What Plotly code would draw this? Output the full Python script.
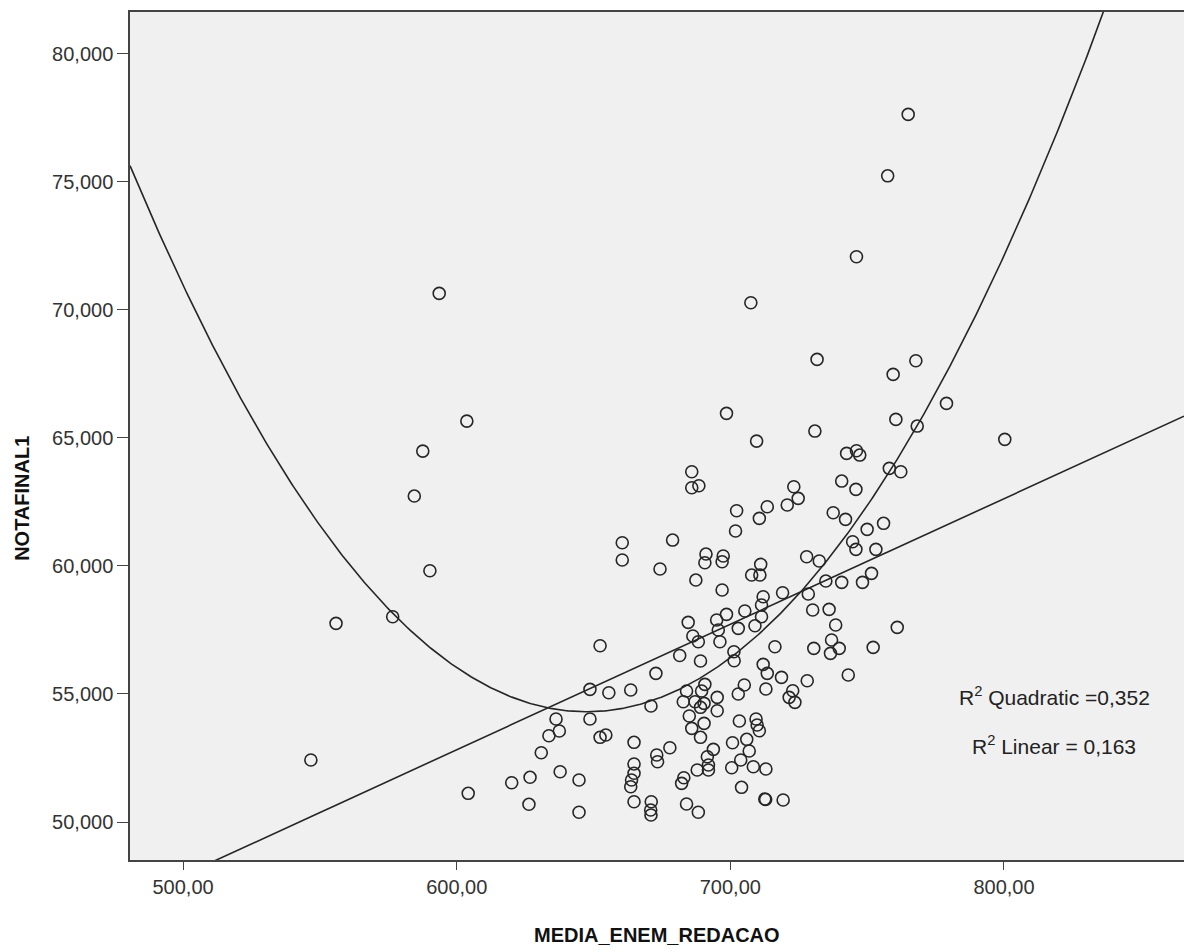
import plotly.graph_objects as go
import numpy as np

# MEDIA_ENEM_REDACAO (x) and NOTAFINAL1 (y) per student
media_enem_redacao = [
    546.7, 555.9, 576.6, 590.2, 584.5, 587.6, 593.6, 603.7, 604.2,
    660.5, 660.5, 678.9, 674.3, 652.4, 648.7, 655.6, 663.6, 672.8, 681.5,
    671.0, 636.3, 648.7, 637.5, 633.7, 652.4, 654.5, 664.8, 630.9, 677.9,
    673.1, 673.4, 664.8, 664.8, 663.9, 663.6, 664.8, 671.1, 670.9, 671.0,
    637.8, 644.7, 626.8, 620.1, 626.4, 644.7,
    730.9, 709.6, 742.5, 746.1, 747.3, 685.9, 685.9, 688.5, 740.7, 745.9,
    723.2, 724.8, 720.8, 713.5, 710.6, 702.3, 701.9, 737.6, 742.1, 750.0,
    756.0, 744.7, 745.9, 753.2, 691.1, 690.7, 697.4, 697.0, 727.9, 732.5,
    711.1, 707.8, 710.8, 687.4, 697.0, 734.9, 740.7, 748.3, 751.6, 719.1,
    728.5, 712.0, 711.4, 705.3, 698.6, 695.0, 684.6, 711.4, 709.0, 702.9,
    730.1, 736.1, 738.5, 695.6, 686.3, 688.3, 696.2, 716.3, 730.5, 737.0,
    739.8, 736.6, 752.2, 689.1, 701.3, 701.4, 743.1, 712.0, 713.5, 718.7,
    728.1, 690.7, 684.0, 689.5, 705.1, 702.9, 713.0, 722.8, 721.5, 723.6,
    682.8, 687.1, 690.4, 695.2, 695.2, 689.1, 685.0, 690.4, 685.9, 689.1,
    703.3, 709.4, 709.8, 710.6, 700.8, 706.0, 706.9, 693.8, 691.6, 692.0,
    692.0, 687.9, 703.8, 700.5, 708.4, 713.0, 683.0, 682.2, 704.1, 712.6,
    712.9, 719.3, 684.0, 688.3,
    779.0, 760.5, 768.3, 800.3, 758.1, 762.3, 761.0, 765.0, 757.5, 746.1,
    707.5, 731.7, 767.8, 759.5, 698.6,
]
notafinal1 = [
    52420, 57755, 58013, 59808, 62724, 64480, 70635, 65651, 51120,
    60901, 60226, 61006, 59875, 56881, 55179, 55047, 55152, 55804, 56500,
    54527, 54020, 54020, 53552, 53368, 53306, 53396, 53111, 52705, 52900,
    52615, 52354, 52264, 51901, 51639, 51378, 50792, 50792, 50468, 50273,
    51963, 51639, 51745, 51534, 50691, 50379,
    65261, 64870, 64390, 64492, 64324, 63672, 63048, 63126, 63309, 62985,
    63087, 62634, 62373, 62306, 61853, 62150, 61358, 62072, 61814, 61424,
    61660, 60940, 60643, 60643, 60460, 60120, 60382, 60160, 60355, 60187,
    60058, 59640, 59640, 59445, 59055, 59406, 59355, 59355, 59707, 58950,
    58899, 58794, 58470, 58235, 58107, 57884, 57794, 58013, 57662, 57560,
    58274, 58302, 57689, 57494, 57260, 57037, 57037, 56842, 56780, 57103,
    56780, 56584, 56819, 56284, 56647, 56296, 55737, 56155, 55804, 55648,
    55515, 55374, 55113, 55113, 55347, 54996, 55191, 55125, 54867, 54672,
    54695, 54695, 54633, 54867, 54344, 54477, 54137, 53852, 53657, 53306,
    53942, 54020, 53786, 53563, 53095, 53228, 52771, 52837, 52549, 52225,
    52030, 52030, 52420, 52119, 52158, 52069, 51729, 51510, 51354, 50898,
    50880, 50859, 50703, 50379,
    66342, 65717, 65456, 64937, 63805, 63672, 57599, 77622, 75225, 72064,
    70268, 68059, 68004, 67474, 65952,
]

# Fitted curves: coefficients in increasing powers of x
linear_coef = [23420.0, 49.0]
quadratic_coef = [375199.0, -991.19, 0.7654]
r2_quadratic = "0,352"
r2_linear = "0,163"

x_ticks = [500, 600, 700, 800]
x_tick_labels = ["500,00", "600,00", "700,00", "800,00"]
y_ticks = [50000, 55000, 60000, 65000, 70000, 75000, 80000]
y_tick_labels = ["50,000", "55,000", "60,000", "65,000", "70,000", "75,000", "80,000"]

x_range = [480.6, 865.8]
y_range = [48517, 81620]

font_family = "Liberation Sans, Arial, sans-serif"
ink = "#262626"

xs = np.linspace(x_range[0], x_range[1], 600)
y_lin = np.polynomial.polynomial.polyval(xs, linear_coef)
y_quad = np.polynomial.polynomial.polyval(xs, quadratic_coef)

fig = go.Figure()
fig.add_trace(go.Scatter(
    x=media_enem_redacao, y=notafinal1, mode="markers",
    marker=dict(symbol="circle-open", size=12, color=ink, line=dict(width=1.6, color=ink)),
    showlegend=False, hoverinfo="x+y",
))
fig.add_trace(go.Scatter(x=xs, y=y_quad, mode="lines", line=dict(color=ink, width=1.6),
                         showlegend=False, hoverinfo="skip"))
fig.add_trace(go.Scatter(x=xs, y=y_lin, mode="lines", line=dict(color=ink, width=1.6),
                         showlegend=False, hoverinfo="skip"))

fig.update_layout(
    width=1184, height=952, autosize=False,
    margin=dict(l=130, r=0, t=12, b=92),
    paper_bgcolor="white", plot_bgcolor="#f0f0f0",
    font=dict(family=font_family, color="#333333"),
    xaxis=dict(range=x_range, tickvals=x_ticks, ticktext=x_tick_labels,
               showgrid=False, zeroline=False, showline=True, linecolor="#444444",
               linewidth=1.5, mirror=True, ticks="outside", ticklen=8, tickwidth=1.3,
               tickcolor="#444444", tickfont=dict(size=20, family=font_family, color="#333333")),
    yaxis=dict(range=y_range, tickvals=y_ticks, ticktext=y_tick_labels,
               showgrid=False, zeroline=False, showline=True, linecolor="#444444",
               linewidth=1.5, ticks="outside", ticklen=11, tickwidth=1.3,
               tickcolor="#444444", tickfont=dict(size=20, family=font_family, color="#333333")),
    annotations=[
        dict(text="MEDIA_ENEM_REDACAO", xref="paper", yref="paper", x=0.5, y=-0.0885,
             xanchor="center", yanchor="middle", showarrow=False,
             font=dict(size=20, family=font_family, color="#111111", weight="bold")),
        dict(text="NOTAFINAL1", xref="paper", yref="paper", x=-0.1025, y=0.427,
             textangle=-90, xanchor="center", yanchor="middle", showarrow=False,
             font=dict(size=20, family=font_family, color="#111111", weight="bold")),
        dict(text=f"R<sup>2</sup> Quadratic ={r2_quadratic}", xref="paper", yref="paper",
             x=0.8767, y=0.1938, xanchor="center", yanchor="middle", showarrow=False,
             font=dict(size=21, family=font_family, color="#222222")),
        dict(text=f"R<sup>2</sup> Linear = {r2_linear}", xref="paper", yref="paper",
             x=0.8767, y=0.1356, xanchor="center", yanchor="middle", showarrow=False,
             font=dict(size=21, family=font_family, color="#222222")),
    ],
)

fig.write_html("out.html")
